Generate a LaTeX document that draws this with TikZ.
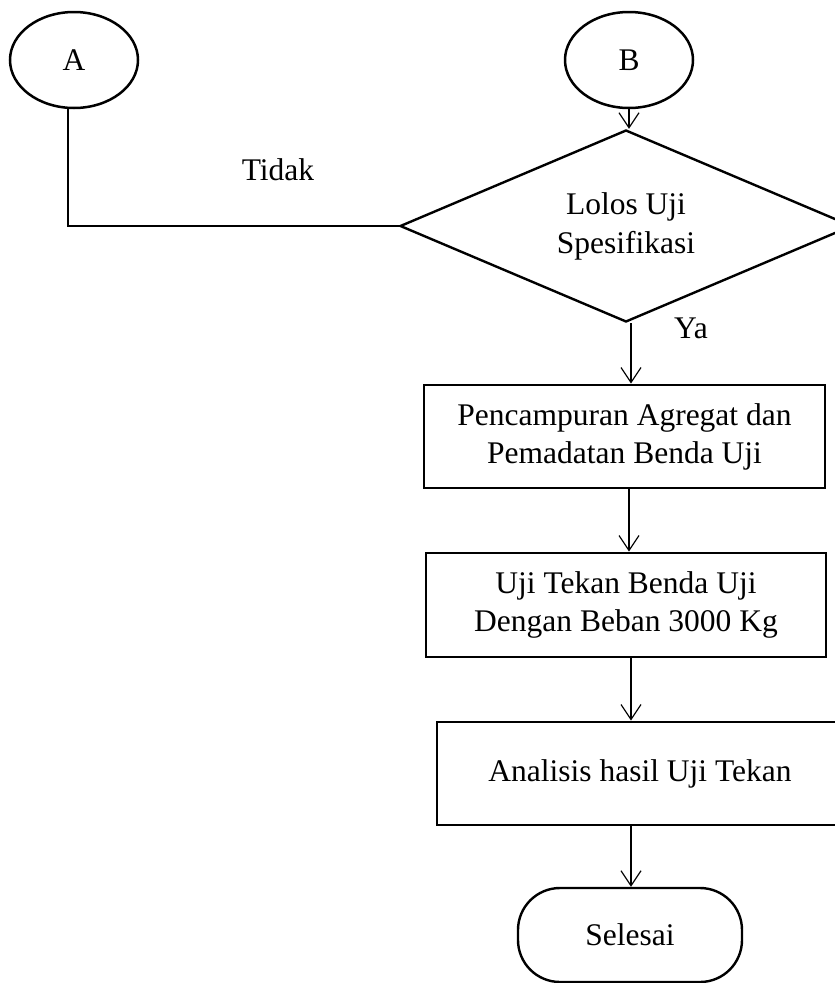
\documentclass[tikz,border=0pt]{standalone}
\usepackage{fontspec}
\setmainfont{Liberation Serif}
\usetikzlibrary{shapes.geometric,arrows.meta}
\begin{document}
\begin{tikzpicture}[x=1pt,y=-1pt,
  every node/.style={font=\fontsize{31.5}{38}\selectfont, align=center, inner sep=0pt},
  conn/.style={ellipse, draw, line width=2.5pt, minimum width=128pt, minimum height=96pt},
  procbox/.style={rectangle, draw, line width=2.8pt},
  decbox/.style={diamond, draw, line width=2.4pt, shape aspect=2.35, minimum width=452pt, minimum height=192pt},
  termbox/.style={rectangle, draw, line width=2.4pt, rounded corners=42pt, minimum width=224pt, minimum height=94pt},
  flow/.style={line width=1.2pt, -{Straight Barb[length=15pt,width=20pt,line width=1.2pt]}},
  plain/.style={line width=2pt}]
\useasboundingbox (0,0) rectangle (835,983);
\clip (0,0) rectangle (835,983);
\node[conn] (A) at (74,60) {A};
\node[conn] (B) at (629,60) {B};
\node[decbox] (dec) at (626,226) {Lolos Uji\\[1pt]Spesifikasi};
\node[procbox, minimum width=401pt, minimum height=103pt] (p1) at (624.5,436.5) {Pencampuran Agregat dan\\Pemadatan Benda Uji};
\node[procbox, minimum width=400pt, minimum height=104pt] (p2) at (626,605) {Uji Tekan Benda Uji\\Dengan Beban 3000 Kg};
\node[procbox, minimum width=406pt, minimum height=103pt] (p3) at (640,773.5) {Analisis hasil Uji Tekan};
\node[termbox] (end) at (630,935) {Selesai};
\node (tidak) at (278,170) {Tidak};
\node (ya) at (691,328) {Ya};
\coordinate (top) at (68,108);
\coordinate (corner) at (top |- dec.west);
\draw[plain] (top) -- (corner) -- (dec.west);
\draw[flow] (B.south) -- (B.south |- dec.north);
\draw[flow] ([xshift=5pt]dec.south) -- ([xshift=5pt]dec.south |- p1.north);
\draw[flow] (p1.south -| 629,0) -- (p2.north -| 629,0);
\draw[flow] (p2.south -| 631,0) -- (p3.north -| 631,0);
\draw[flow] (p3.south -| 631,0) -- (end.north -| 631,0);
\end{tikzpicture}
\end{document}
